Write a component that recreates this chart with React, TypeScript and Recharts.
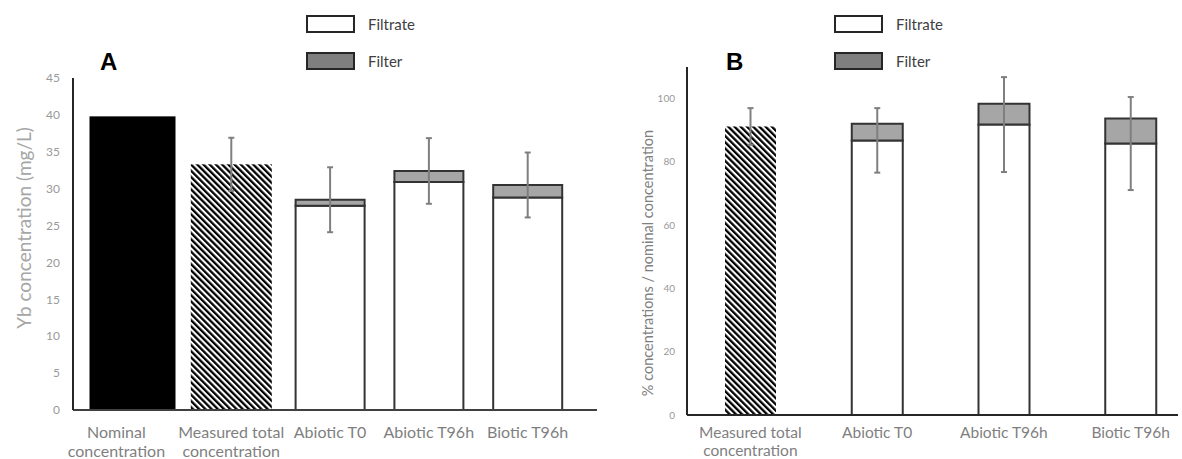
import React from "react";
import { BarChart, Bar, XAxis, YAxis, ErrorBar } from "recharts";

// panel A: Yb concentration (mg/L)
const catsA = ["Nominal\nconcentration", "Measured total\nconcentration", "Abiotic T0", "Abiotic T96h", "Biotic T96h"];
const nominalA = [39.8, null, null, null, null];
const measuredA = [null, 33.3, null, null, null];
const measuredErrA = [null, 3.6, null, null, null];
const filtrateA = [null, null, 27.7, 30.9, 28.8];
const filterA = [null, null, 0.8, 1.5, 1.7];
const filterErrA = [null, null, 4.4, 4.45, 4.4];
const ticksA = [0, 5, 10, 15, 20, 25, 30, 35, 40, 45];

// panel B: % of nominal concentration
const catsB = ["Measured total\nconcentration", "Abiotic T0", "Abiotic T96h", "Biotic T96h"];
const measuredB = [91.2, null, null, null];
const measuredErrB = [5.8, null, null, null];
const filtrateB = [null, 86.8, 91.8, 85.8];
const filtrateErrB = [null, 10.2, 15, 14.7];
const filterB = [null, 5.3, 6.6, 7.9];
const ticksB = [0, 20, 40, 60, 80, 100];

const legendItems = [
    { name: "Filtrate", fill: "#ffffff" },
    { name: "Filter", fill: "#7f7f7f" },
];

const FONT = "Lato, 'Open Sans', sans-serif";

const dataA = catsA.map((cat, i) => ({
    cat,
    nominal: nominalA[i],
    measured: measuredA[i],
    measuredErr: measuredErrA[i],
    filtrate: filtrateA[i],
    filter: filterA[i],
    filterErr: filterErrA[i],
}));

const dataB = catsB.map((cat, i) => ({
    cat,
    measured: measuredB[i],
    measuredErr: measuredErrB[i],
    filtrate: filtrateB[i],
    filtrateErr: filtrateErrB[i],
    filter: filterB[i],
}));

// bars that are drawn a bit wider than the shared barSize
const wideShape = (extra: number, fill: string) => (props: any) => {
    const { x, y, width, height } = props;
    if (!height || height <= 0) return <g />;
    return <rect x={x - extra / 2} y={y} width={width + extra} height={height} fill={fill} />;
};

function MultiTick(props: any) {
    const { x, y, payload, size, first, lineH, firstDx = 0 } = props;
    const lines = String(payload.value).split("\n");
    const cx = payload.index === 0 ? x + firstDx : x;
    return (
        <text x={cx} y={y} textAnchor="middle" fill="#7f7f7f" fontSize={size} fontFamily={FONT}>
            {lines.map((l, i) => (
                <tspan key={i} x={cx} dy={i === 0 ? first : lineH}>
                    {l}
                </tspan>
            ))}
        </text>
    );
}

function Hatch({ id }: { id: string }) {
    return (
        <defs>
            <pattern id={id} patternUnits="userSpaceOnUse" width={4.4} height={4.4} patternTransform="rotate(-45)">
                <rect width={4.4} height={4.4} fill="#fff" />
                <rect width={2.3} height={4.4} fill="#000" />
            </pattern>
        </defs>
    );
}

function Legend({ left }: { left: number }) {
    return (
        <>
            {legendItems.map((it, i) => (
                <div key={it.name}>
                    <div
                        style={{
                            position: "absolute",
                            left,
                            top: 15 + i * 37,
                            width: 45,
                            height: 14,
                            border: "2px solid #262626",
                            background: it.fill,
                        }}
                    />
                    <div
                        style={{
                            position: "absolute",
                            left: left + 62,
                            top: 15 + i * 37,
                            lineHeight: "18px",
                            fontSize: 15,
                            fontFamily: FONT,
                            color: "#404040",
                        }}
                    >
                        {it.name}
                    </div>
                </div>
            ))}
        </>
    );
}

function RotLabel({ cx, cy, size, color, text }: any) {
    return (
        <div
            style={{
                position: "absolute",
                left: cx,
                top: cy,
                transform: "translate(-50%, -50%) rotate(-90deg)",
                whiteSpace: "nowrap",
                fontSize: size,
                fontFamily: FONT,
                color,
                lineHeight: 1,
            }}
        >
            {text}
        </div>
    );
}

const panelLetter = (left: number): React.CSSProperties => ({
    position: "absolute",
    left,
    top: 50,
    fontSize: 24,
    fontWeight: "bold",
    lineHeight: 1,
    fontFamily: "'Liberation Sans', Arial, sans-serif",
    color: "#000",
});

export default function App() {
    return (
        <div style={{ position: "absolute", left: 0, top: 0, width: 1182, height: 459, overflow: "hidden", background: "#fff" }}>
            {/* Panel A */}
            <div style={{ position: "absolute", left: 0, top: 0 }}>
                <BarChart width={600} height={459} data={dataA} margin={{ top: 78, right: 3, left: 13, bottom: 4 }}>
                    <Hatch id="hatchA" />
                    <XAxis
                        dataKey="cat"
                        height={45}
                        interval={0}
                        padding={{ left: 10, right: 20 }}
                        tickLine={false}
                        axisLine={{ stroke: "#404040", strokeWidth: 2 }}
                        tick={<MultiTick size={16} first={20} lineH={19} firstDx={-16} />}
                    />
                    <YAxis
                        width={60}
                        domain={[0, 45]}
                        ticks={ticksA}
                        interval={0}
                        tickLine={false}
                        tickMargin={7}
                        axisLine={{ stroke: "#262626", strokeWidth: 2 }}
                        tick={{ fill: "#999", fontSize: 12, fontFamily: FONT }}
                    />
                    <Bar dataKey="nominal" stackId="s" barSize={69} fill="#000" shape={wideShape(17, "#000")} isAnimationActive={false} />
                    <Bar dataKey="measured" stackId="s" barSize={69} fill="url(#hatchA)" shape={wideShape(12, "url(#hatchA)")} isAnimationActive={false}>
                        <ErrorBar dataKey="measuredErr" width={3} stroke="#7f7f7f" strokeWidth={2} direction="y" />
                    </Bar>
                    <Bar dataKey="filtrate" stackId="s" barSize={69} fill="#fff" stroke="#333" strokeWidth={2} isAnimationActive={false} />
                    <Bar dataKey="filter" stackId="s" barSize={69} fill="#a6a6a6" stroke="#333" strokeWidth={2} isAnimationActive={false}>
                        <ErrorBar dataKey="filterErr" width={3} stroke="#7f7f7f" strokeWidth={2} direction="y" />
                    </Bar>
                </BarChart>
            </div>
            <RotLabel cx={23} cy={228} size={19} color="#a6a6a6" text="Yb concentration (mg/L)" />
            <div style={panelLetter(100)}>A</div>
            <Legend left={306} />

            {/* Panel B */}
            <div style={{ position: "absolute", left: 600, top: 0 }}>
                <BarChart width={582} height={459} data={dataB} margin={{ top: 67, right: 4, left: 27, bottom: 0 }}>
                    <Hatch id="hatchB" />
                    <XAxis
                        dataKey="cat"
                        height={44}
                        interval={0}
                        padding={{ left: 0, right: -16 }}
                        tickLine={false}
                        axisLine={{ stroke: "#262626", strokeWidth: 2 }}
                        tick={<MultiTick size={15.5} first={15} lineH={18} />}
                    />
                    <YAxis
                        width={60}
                        domain={[0, 110]}
                        ticks={ticksB}
                        interval={0}
                        tickLine={false}
                        tickMargin={6}
                        axisLine={{ stroke: "#262626", strokeWidth: 2 }}
                        tick={{ fill: "#999", fontSize: 10, fontFamily: FONT }}
                    />
                    <Bar dataKey="measured" stackId="s" barSize={51} fill="url(#hatchB)" shape={wideShape(0, "url(#hatchB)")} isAnimationActive={false}>
                        <ErrorBar dataKey="measuredErr" width={3} stroke="#7f7f7f" strokeWidth={2} direction="y" />
                    </Bar>
                    <Bar dataKey="filtrate" stackId="s" barSize={51} fill="#fff" stroke="#333" strokeWidth={2} isAnimationActive={false}>
                        <ErrorBar dataKey="filtrateErr" width={3} stroke="#7f7f7f" strokeWidth={2} direction="y" />
                    </Bar>
                    <Bar dataKey="filter" stackId="s" barSize={51} fill="#a6a6a6" stroke="#333" strokeWidth={2} isAnimationActive={false} />
                </BarChart>
            </div>
            <RotLabel cx={648} cy={263} size={14.5} color="#7f7f7f" text="% concentrations / nominal concentration" />
            <div style={panelLetter(726)}>B</div>
            <Legend left={834} />
        </div>
    );
}
